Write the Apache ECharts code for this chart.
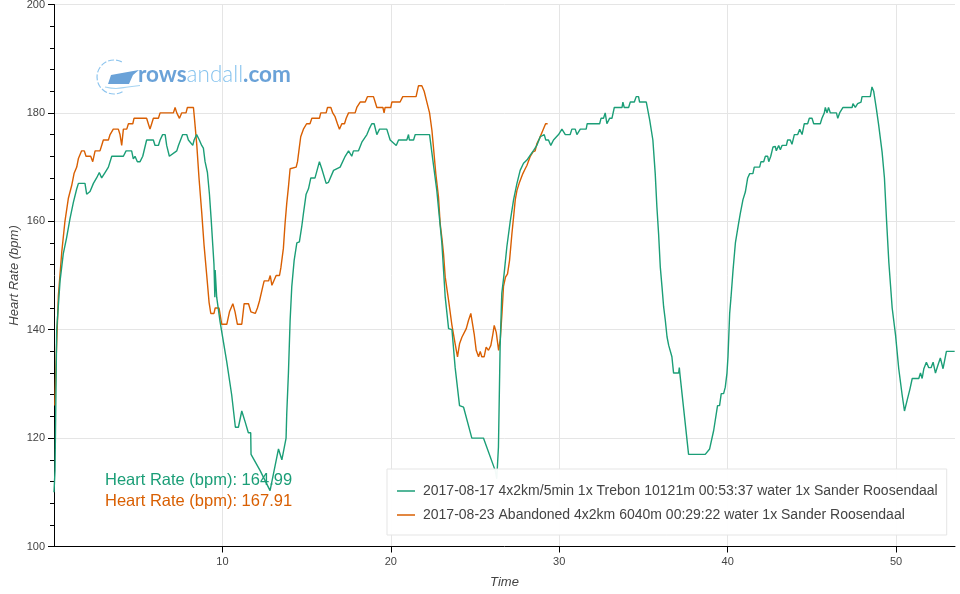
<!DOCTYPE html>
<html><head><meta charset="utf-8">
<script src="https://cdn.jsdelivr.net/npm/echarts@6/dist/echarts.min.js"></script>
<style>html,body{margin:0;padding:0;background:#fff}#chart{width:960px;height:594px}</style>
</head><body><div id="chart"></div>
<script>
const seriesNames = [
  '2017-08-17 4x2km/5min 1x Trebon 10121m 00:53:37 water 1x Sander Roosendaal',
  '2017-08-23 Abandoned 4x2km 6040m 00:29:22 water 1x Sander Roosendaal'
];
const greenTime = [0.0,0.06,0.16,0.36,0.55,0.75,0.95,1.15,1.35,1.45,1.84,1.94,2.14,2.34,2.53,2.69,2.83,3.03,3.23,3.43,4.12,4.28,4.61,4.71,4.81,4.95,5.11,5.27,5.50,5.90,6.0,6.2,6.3,6.45,6.6,6.69,6.85,7.29,7.39,7.64,7.88,7.98,8.24,8.32,8.47,8.63,8.77,8.87,8.97,9.11,9.23,9.33,9.43,9.5,9.55,9.57,9.66,9.86,10.26,10.55,10.77,10.95,11.15,11.35,11.54,11.68,11.7,12.24,12.83,13.33,13.53,13.78,13.82,13.92,14.02,14.12,14.26,14.42,14.57,14.71,14.81,14.97,15.11,15.25,15.5,15.76,15.9,16.16,16.3,16.6,16.99,17.29,17.49,17.68,17.78,18.08,18.28,18.58,18.71,18.87,19.01,19.17,19.33,19.76,19.96,20.32,20.46,20.95,21.05,21.1,21.35,21.45,22.3,22.55,22.73,22.9,23.03,23.13,23.23,23.43,23.63,23.82,24.08,24.32,24.81,25.5,26.2,26.29,26.39,26.49,26.59,26.73,26.89,27.09,27.29,27.49,27.68,27.88,28.08,28.28,28.48,28.67,28.87,29.11,29.2,29.36,29.5,29.66,29.96,30.16,30.36,30.65,30.75,30.95,31.05,31.25,31.6,31.66,32.4,32.48,32.63,32.73,32.83,32.99,33.13,33.27,33.73,33.78,33.86,34.12,34.22,34.46,34.57,34.71,34.77,35.17,35.37,35.56,35.7,35.8,35.9,36.0,36.1,36.2,36.3,36.4,36.5,36.6,36.69,36.79,37.09,37.13,37.16,37.68,38.67,38.93,39.17,39.4,39.52,39.62,39.76,39.86,39.96,40.02,40.12,40.2,40.32,40.46,40.65,40.75,40.91,41.05,41.19,41.31,41.5,41.58,41.9,41.98,42.14,42.24,42.38,42.44,42.56,42.69,42.83,42.89,43.03,43.13,43.23,43.49,43.56,43.72,43.82,43.96,44.16,44.28,44.42,44.55,44.75,44.85,45.01,45.11,45.5,45.6,45.74,45.8,45.9,45.99,46.1,46.46,46.54,46.65,46.85,47.39,47.44,47.58,47.72,47.92,47.98,48.47,48.57,48.67,48.83,48.97,49.17,49.31,49.43,49.57,49.77,49.97,50.16,50.36,50.5,50.66,50.82,50.96,51.35,51.45,51.55,51.65,51.8,51.94,52.08,52.2,52.34,52.48,52.63,52.79,52.99,53.48];
const greenHR = [110,114,140,149,154,157,160.5,163.5,166,167,167,165,165.5,167,168,169,168,169,170,172,172,173,173,171.5,172,171,171,172,175,175,174,174,175,176,176,174,172,173,174,176,176,175,174,175,176,175,174,173.5,171,169,165,160.5,155.5,152,146,151,146,141.5,134,128,122,122,125,123,121,121,117,114,110.3,118,116,120,124.5,132,141.7,148,152.8,156,156.2,159,161.4,165,166,168,168,171,169.7,167,167.2,169.4,170,172,173,172,173,173,174.6,176,177,178,178,176,177,177,175,174,175,175,176,175,175,176,176,170,165.7,160.2,156,151,146,140.2,140,133,126,125.7,120,120,114,112.5,118.3,136.8,146.7,150.4,155.3,160,164,167,169.4,170.7,171.3,172.2,173.1,174,175.6,176,175,175,174,175,176,177,176,176,177,177,176,177,177,178,178,179,179,180,178,179,179,181,181,182,181,181,182,182,183,183,182,182,178.7,175,168.8,162.6,157.7,151.6,148,144.2,141.7,138.7,137.1,137,135,132,132,133,132,117,117,118,121.4,126,126,128.2,128.2,129.4,132,135,143,146,151,156,159.6,161.4,164,165.4,168,168.8,168.8,170,170,171,171,172,172,171,172,173.7,173.8,173,174,173.2,174,174,175,175,174.2,176,176,177,176,178,178,179,179,178,178,179,180,181,180,181,180,180,179,180,181,181,181.7,181,181.7,182,183,183,184.8,184,180.8,177.7,172.8,168,160.5,152.5,144,139,132.8,128,125,127,129,131,131,132,131,132.8,134,133,133,134,132,133.4,134.8,132.8,136,136];
const orangeTime = [0.05,0.12,0.26,0.46,0.65,0.85,1.05,1.19,1.35,1.45,1.64,1.8,1.9,2.18,2.3,2.44,2.73,2.83,2.93,3.23,3.33,3.52,3.82,3.92,4.02,4.12,4.32,4.42,4.68,4.75,5.5,5.6,5.7,5.8,5.9,6.2,6.3,7.09,7.19,7.29,7.45,7.58,7.84,7.92,8.28,8.34,8.48,8.61,8.77,8.91,9.07,9.21,9.31,9.5,9.57,9.8,9.96,10.26,10.42,10.62,10.75,10.89,11.15,11.29,11.55,11.69,11.95,12.08,12.2,12.4,12.48,12.74,12.84,12.94,13.05,13.19,13.39,13.47,13.62,13.72,13.82,13.92,14.02,14.38,14.46,14.57,14.65,14.81,15.0,15.2,15.31,15.76,15.84,16.16,16.24,16.44,16.55,16.69,16.83,16.95,17.09,17.25,17.35,17.49,17.88,17.98,18.18,18.48,18.61,18.97,19.07,19.17,19.53,19.6,19.66,20.0,20.06,20.55,20.71,21.5,21.64,21.84,21.98,22.14,22.3,22.44,22.53,22.67,22.83,22.93,23.03,23.13,23.23,23.43,23.62,23.82,23.96,24.08,24.22,24.48,24.61,24.75,24.85,24.95,25.07,25.21,25.31,25.4,25.54,25.66,25.8,25.94,26.06,26.14,26.26,26.4,26.5,26.6,26.69,26.81,26.93,27.05,27.19,27.29,27.39,27.49,27.62,27.84,27.98,28.08,28.28,28.44,28.57,28.67,28.83,29.03,29.19,29.31];
const orangeHR = [126,134,146.3,154.3,160,164.2,166.6,168.8,170,171.6,173,173,172,172,171,173,173,174,175,175,176,177,177,176,174,177,177,178,178,179,179,178,177,178,179,179,180,180,181,180,179,180,180,181,181,179,174,168,161.7,155.6,150,145,143,143,144,144,141,141,143.3,144.8,143.3,141,141,144.8,144.8,143.3,143,144,145.3,148,149,149,150,148.2,148.2,150,150,151.4,155,159.6,163.3,166.3,169.7,170,171,173.7,175.6,177,178,178,179,179,180,180,181,181,180,179.3,178,177,178,178,179,180,180,181,182,182,183,183,182,181,181,180,181,181,182,182,183,183,185,185,184,182,180,176.8,173.7,168.8,164.5,159.6,157,154,149.7,145.4,141,137.4,135,137.4,138.6,140.2,141.7,143,143,139.2,136.2,135,136,135,135,136.8,136.2,137.1,139.2,140.8,139.5,136.2,138.3,143,148,149.7,150.3,152.8,157.7,160.8,164,165.7,167,168.8,169.7,170.3,172,172.8,173,174.3,175.3,176.8,178,178];
const xTicks = [10, 20, 30, 40, 50];
const yTicks = [100, 120, 140, 160, 180, 200];
const annotations = ['Heart Rate (bpm): 164.99', 'Heart Rate (bpm): 167.91'];
const colors = ['#1b9e77', '#d95f02'];

function zip(a, b) { return a.map((v, i) => [v, b[i]]); }

const chart = echarts.init(document.getElementById('chart'), null, {renderer: 'canvas'});
const axisFont = 'Liberation Sans, Arial, Helvetica, sans-serif';
chart.setOption({
  animation: false,
  backgroundColor: '#fff',
  grid: {left: 54, right: 5, top: 4.5, bottom: 47.5, containLabel: false, outerBoundsMode: 'none'},
  xAxis: {
    type: 'value', min: 0, max: 53.5, interval: 10,
    name: 'Time', nameLocation: 'middle', nameGap: 29,
    nameTextStyle: {fontStyle: 'italic', fontSize: 13, color: '#444', fontFamily: axisFont},
    axisLine: {show: true, onZero: false, lineStyle: {color: '#000', width: 1}},
    axisTick: {show: true, length: 6, customValues: xTicks, lineStyle: {color: '#000'}},
    axisLabel: {customValues: xTicks, fontSize: 11, color: '#444', margin: 10, fontFamily: axisFont},
    splitLine: {show: true, lineStyle: {color: '#e5e5e5', width: 1}}
  },
  yAxis: {
    type: 'value', min: yTicks[0], max: yTicks[yTicks.length - 1], interval: 20,
    name: 'Heart Rate (bpm)', nameLocation: 'middle', nameGap: 33, nameMoveOverlap: false,
    nameTextStyle: {fontStyle: 'italic', fontSize: 13, color: '#444', fontFamily: axisFont},
    axisLine: {show: true, lineStyle: {color: '#000', width: 1}},
    axisTick: {show: true, length: 6, lineStyle: {color: '#000'}},
    minorTick: {show: true, splitNumber: 5, length: 4, lineStyle: {color: '#000'}},
    axisLabel: {fontSize: 11, color: '#444', margin: 9, fontFamily: axisFont},
    splitLine: {show: true, lineStyle: {color: '#e5e5e5', width: 1}}
  },
  legend: {
    show: true, orient: 'vertical', left: 387, top: 469,
    backgroundColor: 'rgba(255,255,255,0.95)', borderColor: '#e5e5e5', borderWidth: 1, borderRadius: 0,
    padding: [14, 9, 12, 10], itemGap: 8, itemWidth: 18, itemHeight: 1.5, icon: 'rect',
    textStyle: {fontSize: 14, color: '#444', fontFamily: axisFont, lineHeight: 16, padding: [0, 0, 0, 3]},
    data: seriesNames
  },
  series: [
    {name: seriesNames[0], type: 'line', data: zip(greenTime, greenHR), showSymbol: false, symbol: 'none',
     lineStyle: {color: colors[0], width: 1.4}, itemStyle: {color: colors[0]}, emphasis: {disabled: true}, z: 3},
    {name: seriesNames[1], type: 'line', data: zip(orangeTime, orangeHR), showSymbol: false, symbol: 'none',
     lineStyle: {color: colors[1], width: 1.4}, itemStyle: {color: colors[1]}, emphasis: {disabled: true}, z: 2}
  ],
  graphic: [
    {type: 'arc', shape: {cx: 114, cy: 77, r: 17, startAngle: Math.PI / 3, endAngle: 5 * Math.PI / 3, clockwise: true},
     style: {stroke: '#8ec5ee', lineWidth: 1.2, fill: null, lineDash: [6, 2]}, z: 1},
    {type: 'polygon', shape: {points: [[108, 84], [111, 75], [122, 73], [139, 70], [133, 75], [129, 84]]},
     style: {fill: '#6aa2d8'}, z: 1},
    {type: 'polyline', shape: {points: [[105, 87], [116, 88.5], [128, 87], [140, 85.5]], smooth: 0.4},
     style: {stroke: '#a6d4f2', lineWidth: 1.2, fill: null}, z: 1},
    {type: 'text', left: 138, top: 63, z: 1,
     style: {text: '{a|rows}{b|andall}{a|.com}', rich: {
       a: {fontSize: 22.5, fontFamily: 'Lato, sans-serif', fontWeight: 'bold', fill: '#6aa2d8'},
       b: {fontSize: 22.5, fontFamily: 'Lato, sans-serif', fontWeight: 300, fill: '#86c3ee'}
     }}},
    {type: 'text', left: 105, top: 472, z: 5,
     style: {text: annotations[0], fill: colors[0], fontSize: 16.5, fontFamily: axisFont}},
    {type: 'text', left: 105, top: 493, z: 5,
     style: {text: annotations[1], fill: colors[1], fontSize: 16.5, fontFamily: axisFont}}
  ]
});
</script>
</body></html>
